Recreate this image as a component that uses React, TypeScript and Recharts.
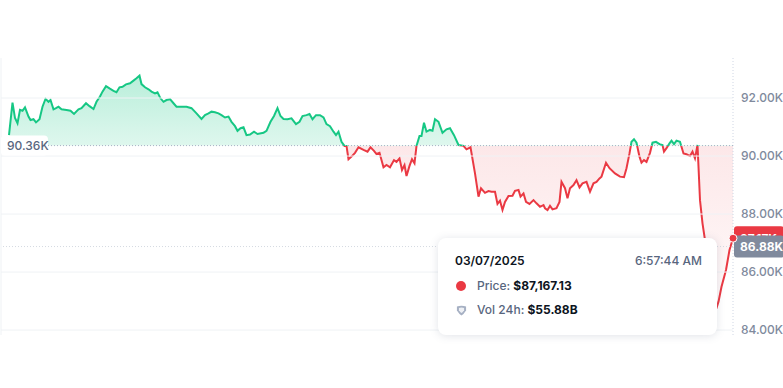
import React from 'react';
import { AreaChart, Area, XAxis, YAxis, CartesianGrid, Tooltip, ReferenceLine } from 'recharts';

// minutes since start of the 24h window
const minutes = [
  0, 7, 12, 17, 22, 27, 32, 39, 43, 49,
  54, 61, 67, 73, 79, 83, 89, 94, 99, 105,
  115, 123, 130, 139, 145, 154, 161, 169, 175, 182,
  187, 194, 201, 209, 215, 221, 227, 234, 242, 249,
  255, 261, 265, 272, 279, 285, 292, 297, 303, 309,
  315, 322, 329, 335, 345, 355, 365, 375, 385, 392,
  399, 405, 412, 419, 425, 432, 439, 445, 452, 457,
  463, 469, 475, 482, 490, 497, 509, 515, 523, 530,
  537, 543, 549, 557, 565, 574, 581, 587, 595, 601,
  607, 614, 622, 629, 635, 642, 649, 654, 659, 665,
  671, 675, 679, 685, 692, 699, 709, 717, 723, 730,
  735, 741, 749, 755, 762, 770, 775, 781, 786, 791,
  795, 801, 806, 811, 815, 821, 825, 830, 835, 842,
  847, 852, 859, 867, 875, 882, 890, 899, 909, 915,
  923, 932, 939, 944, 952, 959, 965, 972, 977, 982,
  987, 992, 999, 1007, 1012, 1019, 1023, 1029, 1034, 1041,
  1049, 1055, 1062, 1069, 1072, 1077, 1082, 1087, 1095, 1101,
  1105, 1112, 1117, 1122, 1129, 1135, 1141, 1147, 1155, 1162,
  1169, 1175, 1181, 1185, 1194, 1201, 1212, 1222, 1230, 1235,
  1241, 1245, 1250, 1255, 1261, 1265, 1270, 1275, 1282, 1287,
  1294, 1301, 1307, 1310, 1315, 1321, 1325, 1330, 1335, 1342,
  1349, 1355, 1362, 1367, 1372, 1377, 1379, 1382, 1387, 1392,
  1399, 1404, 1410, 1415, 1419, 1425, 1434, 1441, 1448,
];

const prices = [
  90720, 91840, 91310, 91130, 91590, 91560, 91680, 91360, 91240, 91270,
  91160, 91270, 91700, 91970, 91870, 91930, 91610, 91650, 91700, 91610,
  91590, 91560, 91450, 91610, 91650, 91820, 91720, 91620, 91870, 92050,
  92220, 92410, 92330, 92250, 92200, 92370, 92390, 92470, 92510, 92600,
  92680, 92770, 92480, 92370, 92300, 92220, 92160, 92200, 91990, 91870,
  91930, 91960, 91820, 91700, 91700, 91700, 91650, 91470, 91280, 91410,
  91470, 91530, 91510, 91470, 91410, 91330, 91360, 91180, 91030, 90870,
  90960, 90990, 90720, 90740, 90840, 90760, 90800, 90870, 91180, 91380,
  91650, 91380, 91280, 91270, 91300, 91100, 91180, 91380, 91410, 91450,
  91270, 91410, 91410, 91330, 91100, 91030, 90840, 90720, 90840, 90490,
  90350, 90350, 89890, 89980, 90110, 90300, 90210, 90150, 90300, 90180,
  90070, 90110, 89610, 89690, 89610, 89860, 89800, 89920, 89520, 89690,
  89310, 89660, 89890, 89750, 90350, 90690, 90690, 91150, 90840, 90900,
  90870, 91270, 91180, 90800, 90920, 90960, 90720, 90380, 90350, 90230,
  90300, 89400, 88600, 88890, 88730, 88790, 88770, 88770, 88350, 88460,
  88140, 88420, 88620, 88630, 88800, 88830, 88600, 88710, 88420, 88350,
  88480, 88370, 88250, 88310, 88200, 88140, 88280, 88160, 88200, 88420,
  89110, 88890, 88540, 88890, 89000, 89170, 88920, 89060, 89110, 88770,
  89060, 89110, 89230, 89290, 89770, 89580, 89400, 89290, 89270, 89580,
  90090, 90490, 90580, 90460, 89980, 89770, 89860, 89800, 90110, 90460,
  90490, 90410, 90380, 90150, 90270, 90440, 90530, 90410, 90530, 90490,
  90090, 90060, 90000, 90150, 89920, 90380, 89630, 88480, 87680, 87100,
  86410, 85380, 84620, 84760, 84980, 85490, 86070, 86760, 87167.13,
];

const openPrice = 90360;
const crosshairPrice = 86880;
const yTicks = [84000, 86000, 88000, 90000, 92000];
const yDomain = [83830, 93380];
const tooltipDate = '03/07/2025';
const tooltipTime = '6:57:44 AM';
const tooltipVolume = '$55.88B';

const GREEN = '#16c784';
const RED = '#ea3943';
const FONT = 'Inter, "Noto Sans", sans-serif';

const data = minutes.map((t, i) => ({ t, price: prices[i] }));
const maxP = Math.max(...prices);
const minP = Math.min(...prices);
const splitOffset = (maxP - openPrice) / (maxP - minP);

const fmtK = (v: number) => (v / 1000).toFixed(2) + 'K';
const fmtUsd = (v: number) =>
  '$' + v.toLocaleString('en-US', { minimumFractionDigits: 2, maximumFractionDigits: 2 });

const TipContent = (props: any) => {
  const { active, payload } = props;
  if (!active || !payload || !payload.length) return null;
  const v = payload[0].value as number;
  const label: React.CSSProperties = { color: '#58667e', fontWeight: 500 };
  const val: React.CSSProperties = { color: '#0d1421', fontWeight: 700 };
  return (
    <div
      style={{
        position: 'relative',
        width: 279,
        height: 97,
        boxSizing: 'border-box',
        background: '#fff',
        borderRadius: 8,
        boxShadow: '0 1px 8px rgba(88,102,126,0.18)',
        fontFamily: FONT,
        fontSize: 12,
        lineHeight: '16px',
      }}
    >
      <div style={{ position: 'absolute', left: 17, top: 15, color: '#0d1421', fontWeight: 600 }}>{tooltipDate}</div>
      <div style={{ position: 'absolute', right: 15, top: 15, color: '#58667e', fontWeight: 500 }}>{tooltipTime}</div>
      <div style={{ position: 'absolute', left: 18, top: 40, display: 'flex', alignItems: 'center' }}>
        <span style={{ width: 10, height: 10, borderRadius: 5, background: RED, display: 'inline-block', marginRight: 11 }} />
        <span style={label}>Price:&nbsp;</span>
        <span style={val}>{fmtUsd(v)}</span>
      </div>
      <div style={{ position: 'absolute', left: 18, top: 64, display: 'flex', alignItems: 'center' }}>
        <svg width={11} height={11} viewBox="0 0 12 12" style={{ marginRight: 10 }}>
          <path d="M1 1.5 Q6 0 11 1.5 L11 6 Q8.5 10 6 11.5 Q3.5 10 1 6 Z" fill="#a6b0c3" />
          <path d="M3.2 3.2 Q6 2.4 8.8 3.2 L8.8 5.6 Q7.4 7.8 6 8.6 Q4.6 7.8 3.2 5.6 Z" fill="#eef0f4" />
        </svg>
        <span style={label}>Vol 24h:&nbsp;</span>
        <span style={val}>{tooltipVolume}</span>
      </div>
    </div>
  );
};

const OpenLabel = (props: any) => {
  const { viewBox } = props;
  const { x, y } = viewBox;
  return (
    <g>
      <rect x={x} y={y - 10} width={47} height={20} rx={4} fill="#fff" />
      <text x={x + 6} y={y} dy="0.36em" fill="#58667e" fontFamily={FONT} fontSize={12} fontWeight={500}>
        {fmtK(openPrice)}
      </text>
    </g>
  );
};

const RightTag = (props: any) => {
  const { viewBox, text, fill, h } = props;
  const { x, y, width } = viewBox;
  return (
    <g>
      <rect x={x + width + 1} y={y - h / 2} width={50} height={h} rx={3} fill={fill} />
      <text
        x={x + width + 7}
        y={y}
        dy="0.36em"
        fill="#fff"
        fontFamily={FONT}
        fontSize={12}
        fontWeight={700}
      >
        {text}
      </text>
    </g>
  );
};

export default function App() {
  const last = prices[prices.length - 1];
  const lastT = minutes[minutes.length - 1];
  return (
    <div style={{ position: 'absolute', left: 0, top: 0, width: 783, height: 388, background: '#fff' }}>
      <AreaChart width={783} height={388} data={data} margin={{ top: 58, right: 0, bottom: 53, left: 1 }}>
        <defs>
          <linearGradient id="strokeGrad" x1="0" y1="0" x2="0" y2="1">
            <stop offset={0} stopColor={GREEN} />
            <stop offset={splitOffset} stopColor={GREEN} />
            <stop offset={splitOffset} stopColor={RED} />
            <stop offset={1} stopColor={RED} />
          </linearGradient>
          <linearGradient id="fillGrad" x1="0" y1="0" x2="0" y2="1">
            <stop offset={0} stopColor={GREEN} stopOpacity={0.3} />
            <stop offset={splitOffset} stopColor={GREEN} stopOpacity={0.14} />
            <stop offset={splitOffset} stopColor={RED} stopOpacity={0.12} />
            <stop offset={1} stopColor={RED} stopOpacity={0.02} />
          </linearGradient>
        </defs>
        <CartesianGrid
          stroke="#eff2f5"
          horizontal={false}
          verticalCoordinatesGenerator={({ offset }: any) => [offset.left]}
        />
        <XAxis
          dataKey="t"
          type="number"
          domain={[0, lastT]}
          height={0}
          axisLine={false}
          tickLine={false}
          tick={false}
          padding={{ left: 8, right: 0 }}
        />
        <YAxis
          orientation="right"
          width={50}
          type="number"
          domain={yDomain}
          ticks={yTicks}
          tickFormatter={fmtK}
          tickLine={false}
          axisLine={false}
          tick={{ fill: '#808a9d', fontSize: 12, fontFamily: FONT, fontWeight: 500 }}
        />
        {yTicks.map((v) => (
          <ReferenceLine key={v} y={v} stroke="#eff2f5" strokeWidth={1} />
        ))}
        <ReferenceLine x={lastT} stroke="#cfd6e4" strokeDasharray="1 2" />
        <Area
          type="linear"
          dataKey="price"
          baseValue={openPrice}
          stroke="url(#strokeGrad)"
          strokeWidth={2}
          fill="url(#fillGrad)"
          fillOpacity={1}
          dot={false}
          activeDot={{ r: 4, fill: RED, stroke: '#fff', strokeWidth: 1 }}
          isAnimationActive={false}
        />
        <ReferenceLine y={openPrice} stroke="#a6b0c3" strokeDasharray="1 2" label={<OpenLabel />} />
        <ReferenceLine
          y={last}
          stroke="none"
          strokeOpacity={0}
          label={<RightTag text={fmtK(last)} fill={RED} h={24} />}
        />
        <ReferenceLine
          y={crosshairPrice}
          stroke="#d5dae2"
          strokeDasharray="1 2"
          label={<RightTag text={fmtK(crosshairPrice)} fill="#808a9d" h={22} />}
        />
        <Tooltip
          content={<TipContent />}
          defaultIndex={data.length - 1}
          active
          position={{ x: 438, y: 238 }}
          cursor={false}
          isAnimationActive={false}
          wrapperStyle={{ outline: 'none' }}
        />
      </AreaChart>
    </div>
  );
}
